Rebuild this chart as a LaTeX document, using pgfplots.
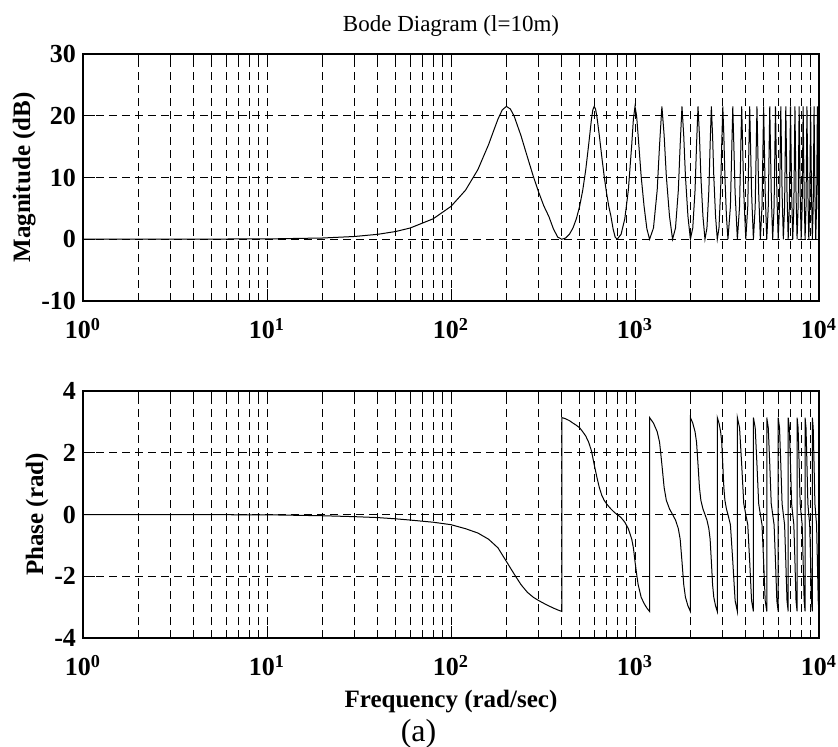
\documentclass[border=0pt]{standalone}
\usepackage{fontspec}
\setmainfont{Liberation Serif}
\usepackage{pgfplots}
\pgfplotsset{compat=1.18}

\pgfplotsset{
  bode/.style={
    scale only axis,
    width=368pt, height=123.5pt,
    xmin=1, xmax=10000,
    xtick={1,10,100,1000,10000},
    xticklabels={10\textsuperscript{0},10\textsuperscript{1},10\textsuperscript{2},10\textsuperscript{3},10\textsuperscript{4}},
    minor xtick={2,3,4,5,6,7,8,9,20,30,40,50,60,70,80,90,200,300,400,500,600,700,800,900,2000,3000,4000,5000,6000,7000,8000,9000},
    xmajorgrids, xminorgrids, ymajorgrids,
    grid style={black, line width=0.5pt, dash pattern=on 4pt off 2.5pt},
    tick align=inside, xtick pos=both, ytick pos=both,
    major tick length=6pt, minor tick length=3pt,
    tick style={black, line width=0.5pt},
    axis line style={line width=0.6pt},
    tick label style={font=\bfseries\fontsize{13}{14}\selectfont},
    xticklabel style={yshift=-5pt},
    label style={font=\bfseries\fontsize{12.5}{14}\selectfont},
    ylabel shift=-4pt,
    title style={font=\fontsize{11.5}{13}\selectfont, yshift=-1pt},
    anchor=north west,
  },
}

\begin{document}
\begin{tikzpicture}
\path[use as bounding box] (-41.5pt,27pt) rectangle (377.5pt,-346.5pt);

% magnitude
\begin{semilogxaxis}[bode, at={(0pt,0pt)},
  ymin=-10, ymax=30, ytick={-10,0,10,20,30}, yticklabels={-10,0,10,20,30},
  ylabel={Magnitude (dB)}, title={Bode Diagram (l=10m)}]
\addplot[black, line width=0.5pt, mark=none] coordinates {
(1,0) (10,0.05) (20,0.2) (30,0.45) (40,0.8) (50,1.25) (60,1.82) (80,3.31)
(100,5.32) (120,7.95) (140,11.28) (160,15.32) (170,17.47) (180,19.46) (190,20.95)
(200,21.51) (210,21.1) (220,20.0) (240,16.78) (260,13.34) (280,10.2) (300,7.56)
(320,5.35) (340,3.71) (360,1.7) (380,0.35) (400,0)
(420,0.2) (440,0.8) (460,1.82) (480,3.31) (500,5.32) (520,7.95) (540,11.28)
(560,15.32) (580,19.46) (590,20.95) (600,21.51) (610,21.1) (620,20.0) (640,16.78)
(660,13.34) (680,10.2) (700,7.56) (720,5.35) (740,3.71) (760,1.7) (780,0.35) (800,0)
(840,0.8) (880,3.31) (920,7.95) (960,15.32) (980,19.46) (1000,21.51) (1020,20.0)
(1040,16.78) (1080,10.2) (1120,5.35) (1160,1.7) (1200,0)
(1260,1.82) (1320,7.95) (1360,15.32) (1400,21.51) (1440,16.78) (1480,10.2) (1540,3.71) (1600,0)
(1660,1.82) (1720,7.95) (1760,15.32) (1800,21.51) (1840,16.78) (1880,10.2) (1940,3.71) (2000,0)
(2060,1.82) (2120,7.95) (2160,15.32) (2200,21.51) (2240,16.78) (2280,10.2) (2340,3.71) (2400,0)
(2460,1.82) (2520,7.95) (2560,15.32) (2600,21.51) (2640,16.78) (2680,10.2) (2740,3.71) (2800,0)
(2860,1.82) (2920,7.95) (2960,15.32) (3000,21.51) (3040,16.78) (3080,10.2) (3140,3.71) (3200,0)
(3300,5.32) (3400,21.51) (3500,7.56) (3600,0)
(3700,5.32) (3800,21.51) (3900,7.56) (4000,0)
(4100,5.32) (4200,21.51) (4300,7.56) (4400,0)
(4500,5.32) (4600,21.51) (4700,7.56) (4800,0)
(4900,5.32) (5000,21.51) (5100,7.56) (5200,0)
(5300,5.32) (5400,21.51) (5500,7.56) (5600,0)
(5700,5.32) (5800,21.51) (5900,7.56) (6000,0)
(6100,5.32) (6200,21.51) (6300,7.56) (6400,0)
(6500,5.32) (6600,21.51) (6700,7.56) (6800,0)
(6900,5.32) (7000,21.51) (7100,7.56) (7200,0)
(7300,5.32) (7400,21.51) (7500,7.56) (7600,0)
(7700,5.32) (7800,21.51) (7900,7.56) (8000,0)
(8100,5.32) (8200,21.51) (8300,7.56) (8400,0)
(8500,5.32) (8600,21.51) (8700,7.56) (8800,0)
(8900,5.32) (9000,21.51) (9100,7.56) (9200,0)
(9300,5.32) (9400,21.51) (9500,7.56) (9600,0)
(9700,5.32) (9800,21.51) (9900,7.56) (10000,0)
};
\end{semilogxaxis}

% phase
\begin{semilogxaxis}[bode, at={(0pt,-168.5pt)},
  ymin=-4, ymax=4, ytick={-4,-2,0,2,4}, yticklabels={-4,-2,0,2,4},
  ylabel={Phase (rad)}, xlabel={Frequency (rad/sec)}]
\addplot[black, line width=0.5pt, mark=none] coordinates {
(1,0) (10,-0.01) (20,-0.04) (30,-0.07) (40,-0.10) (50,-0.14) (60,-0.18) (80,-0.25)
(100,-0.33) (120,-0.46) (140,-0.60) (160,-0.80) (180,-1.08) (200,-1.52) (220,-1.92)
(240,-2.27) (260,-2.52) (280,-2.68) (300,-2.79) (320,-2.88) (340,-2.96) (360,-3.03)
(380,-3.09) (400,-3.14) (400,3.14)
(420,3.10) (440,3.04) (460,2.96) (480,2.89) (500,2.81) (520,2.68) (540,2.54) (560,2.34)
(580,2.06) (600,1.62) (620,1.22) (640,0.87) (660,0.62) (680,0.46) (700,0.35) (720,0.26)
(740,0.18) (760,0.11) (780,0.05) (800,0)
(840,-0.10) (880,-0.25) (920,-0.46) (960,-0.80) (980,-1.08) (1000,-1.52) (1020,-1.92)
(1040,-2.27) (1080,-2.68) (1120,-2.88) (1160,-3.03) (1200,-3.14) (1200,3.14)
(1260,2.96) (1320,2.68) (1360,2.34) (1400,1.62) (1440,0.87) (1480,0.46) (1540,0.18) (1600,0)
(1660,-0.18) (1720,-0.46) (1760,-0.80) (1800,-1.52) (1840,-2.27) (1880,-2.68) (1940,-2.96) (2000,-3.14) (2000,3.14)
(2060,2.96) (2120,2.68) (2160,2.34) (2200,1.62) (2240,0.87) (2280,0.46) (2340,0.18) (2400,0)
(2460,-0.18) (2520,-0.46) (2560,-0.80) (2600,-1.52) (2640,-2.27) (2680,-2.68) (2740,-2.96) (2800,-3.14) (2800,3.14)
(2860,2.96) (2920,2.68) (2960,2.34) (3000,1.62) (3040,0.87) (3080,0.46) (3140,0.18) (3200,0)
(3300,-0.33) (3400,-1.52) (3500,-2.79) (3600,-3.14) (3600,3.14)
(3700,2.81) (3800,1.62) (3900,0.35) (4000,0)
(4100,-0.33) (4200,-1.52) (4300,-2.79) (4400,-3.14) (4400,3.14)
(4500,2.81) (4600,1.62) (4700,0.35) (4800,0)
(4900,-0.33) (5000,-1.52) (5100,-2.79) (5200,-3.14) (5200,3.14)
(5300,2.81) (5400,1.62) (5500,0.35) (5600,0)
(5700,-0.33) (5800,-1.52) (5900,-2.79) (6000,-3.14) (6000,3.14)
(6100,2.81) (6200,1.62) (6300,0.35) (6400,0)
(6500,-0.33) (6600,-1.52) (6700,-2.79) (6800,-3.14) (6800,3.14)
(6900,2.81) (7000,1.62) (7100,0.35) (7200,0)
(7300,-0.33) (7400,-1.52) (7500,-2.79) (7600,-3.14) (7600,3.14)
(7700,2.81) (7800,1.62) (7900,0.35) (8000,0)
(8100,-0.33) (8200,-1.52) (8300,-2.79) (8400,-3.14) (8400,3.14)
(8500,2.81) (8600,1.62) (8700,0.35) (8800,0)
(8900,-0.33) (9000,-1.52) (9100,-2.79) (9200,-3.14) (9200,3.14)
(9300,2.81) (9400,1.62) (9500,0.35) (9600,0)
(9700,-0.33) (9800,-1.52) (9900,-2.79) (10000,-3.14)
};
\end{semilogxaxis}

\node[font=\fontsize{16}{18}\selectfont, anchor=base] at (167.75pt,-343.5pt) {(a)};
\end{tikzpicture}
\end{document}
